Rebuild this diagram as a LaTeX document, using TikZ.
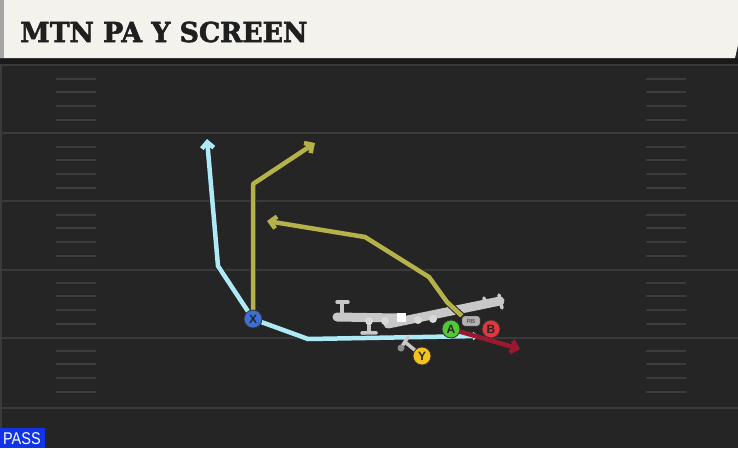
\documentclass[tikz,border=0pt]{standalone}
\usepackage{fontspec}
\usetikzlibrary{arrows.meta}
\newfontfamily\titlefont{DejaVu Serif}[BoldFont={DejaVu Serif Bold},BoldFeatures={FakeBold=2}]
\newfontfamily\tagfont{Liberation Sans}
\definecolor{field}{HTML}{252525}
\definecolor{yardline}{HTML}{3A3A3A}
\definecolor{hashline}{HTML}{3C3C3C}
\definecolor{titlebg}{HTML}{F4F2EC}
\definecolor{routeblue}{HTML}{AEEAF6}
\definecolor{routeolive}{HTML}{B6B24A}
\definecolor{routered}{HTML}{9C1830}
\definecolor{blockgray}{HTML}{C8C8C8}
\definecolor{xblue}{HTML}{3D6FD6}
\definecolor{agreen}{HTML}{52C832}
\definecolor{bred}{HTML}{E0383C}
\definecolor{yyellow}{HTML}{F2C21E}
\definecolor{passblue}{HTML}{1034E6}
\pgfdeclarelayer{fieldlayer}
\pgfdeclarelayer{routelayer}
\pgfsetlayers{fieldlayer,routelayer,main}
\begin{document}
\begin{tikzpicture}[x=1pt,y=-1pt,>={Straight Barb[length=6pt,width=12pt]},
	player/.style={circle,draw=black!80,line width=0.8pt,minimum size=18pt,inner sep=0pt,font=\tagfont\bfseries\fontsize{12}{12}\selectfont,text=black!85},
	rbtag/.style={draw=black!80,fill=black!30,rounded corners=2.5pt,minimum width=18pt,minimum height=10pt,inner sep=0pt,font=\tagfont\fontsize{6}{6}\selectfont,text=black!80},
	outline/.style={draw=black!85,line width=6.5pt,line join=round},
	route/.style={line width=4.5pt,line join=round},
	block/.style={draw=blockgray,line width=9pt,line cap=round},
	blockthin/.style={draw=blockgray,line width=3.5pt,line cap=round}]
	\useasboundingbox (0,0) rectangle (738,448);
	\begin{pgfonlayer}{fieldlayer}
	% field
	\fill[field] (0,0) rectangle (738,448);
	\fill[yardline] (0,64) rectangle (2,448);
	\foreach \y in {65,133,201,270,338,408}
		\draw[yardline,line width=2.5pt] (0,\y)--(738,\y);
	\foreach \y in {65,133,201,269,337}
		\foreach \d in {14,27,41,55}{
			\draw[hashline,line width=2pt] (56,\y+\d)--(96,\y+\d);
			\draw[hashline,line width=2pt] (646,\y+\d)--(686,\y+\d);
		}
	% title bar
	\fill[black!90] (0,58) rectangle (738,64);
	\fill[titlebg] (0,0)--(738,0)--(738,45)--(735,58)--(0,58)--cycle;
	\fill[black!35] (0,0) rectangle (4,58);
	% blocking
	\draw[block] (337,317)--(398,318);
	\draw[block] (388,324)--(500,301);
	\draw[blockthin] (342,317)--(342,302) (337,302)--(348,302);
	\draw[blockthin] (369,320)--(369,333) (362,333)--(376,333);
	\draw[blockthin] (499,295)--(502,308) (484,298)--(485,304);
	\foreach \p in {(369,321),(385,321),(418,320),(433,319)}
		\fill[white!85!black] \p circle (4pt);
	\fill[white] (397,313) rectangle (406,322);
	\end{pgfonlayer}
	\node[anchor=west,inner sep=0pt,xscale=0.97,font=\titlefont\bfseries\fontsize{27.5}{27.5}\selectfont,text=black!88] (title) at (20,32) {MTN PA Y SCREEN};
	% players
	\node[player,fill=xblue] (X) at (253,319) {X};
	\node[player,fill=agreen] (A) at (451,329) {A};
	\node[player,fill=bred] (B) at (491,329) {B};
	\node[player,fill=yyellow] (Y) at (422,356) {Y};
	\node[rbtag] (RB) at (471,321) {RB};
	\coordinate (xstart) at (479,336);
	\coordinate (xend) at (207,139);
	\coordinate (yend) at (315,143);
	\coordinate (rbend) at (267,221);
	\coordinate (aend) at (520,349);
	\coordinate (yblk) at (405,342);
	% routes
	\begin{pgfonlayer}{routelayer}
	\draw[outline,->] (xstart)--(308,339)--(X.center)--(218,266)--(xend);
	\draw[route,routeblue,arrows={Triangle[length=6pt,width=8pt]->}] (xstart)--(308,339)--(X.center)--(218,266)--(xend);
	\draw[outline,->] (X.center)--(253,184)--(yend);
	\draw[route,routeolive,->] (X.center)--(253,184)--(yend);
	\draw[outline,->] (RB.north west)--(447,302)--(429,277)--(365,237)--(rbend);
	\draw[route,routeolive,->] (RB.north west)--(447,302)--(429,277)--(365,237)--(rbend);
	\draw[route,routered,->] (A.center)--(aend);
	\draw[blockthin] (Y.center)--(yblk) (401,348)--(408,337);
	\fill[black!45] (401,348) circle (3.5pt);
	\end{pgfonlayer}
	% tag
	\fill[passblue] (0,428) rectangle (45,448);
	\node[anchor=west,inner sep=0pt,xscale=0.85,font=\tagfont\fontsize{17}{17}\selectfont,text=white] (pass) at (3,439) {PASS};
\end{tikzpicture}
\end{document}
